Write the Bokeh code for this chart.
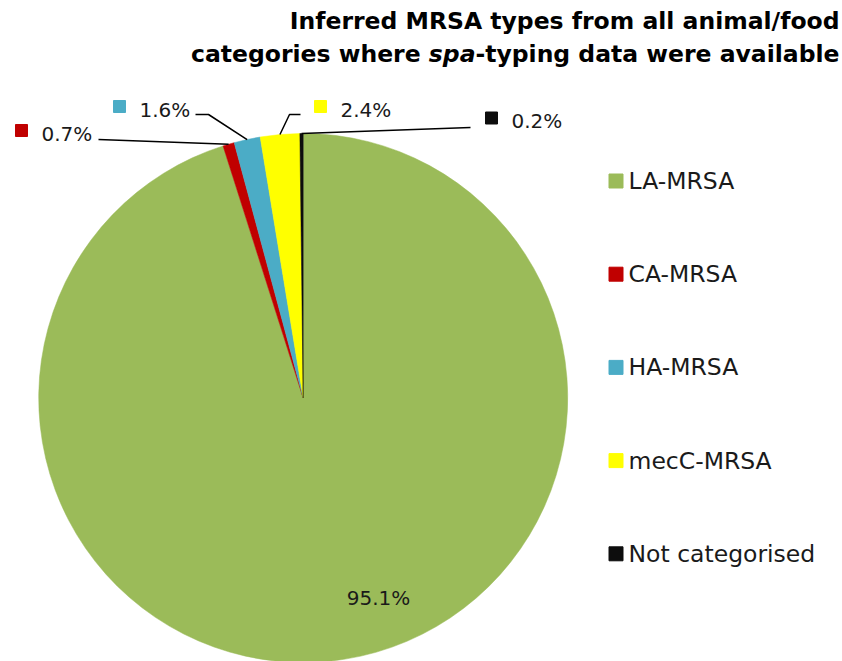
import math
from bokeh.plotting import figure
from bokeh.models import Range1d
from bokeh.core.properties import value
from bokeh.embed import file_html
from bokeh.resources import INLINE

# ---- data ----
categories = ["LA-MRSA", "CA-MRSA", "HA-MRSA", "mecC-MRSA", "Not categorised"]
shares = [95.1, 0.7, 1.6, 2.4, 0.2]
colors = ["#9BBB59", "#C00000", "#4BACC6", "#FFFF00", "#0D0D0D"]
label_texts = ["95.1%", "0.7%", "1.6%", "2.4%", "0.2%"]
title_line1 = "Inferred MRSA types from all animal/food"
title_line2 = ["categories where", "spa", "-typing data were available"]

W, H = 842, 661
FONT = "DejaVu Sans"


def X(px):
    return px


def Y(py):
    return H - py


p = figure(width=W, height=H, output_backend="svg", toolbar_location=None,
           x_range=Range1d(0, W), y_range=Range1d(0, H),
           x_axis_location=None, y_axis_location=None, min_border=0)
p.grid.visible = False
p.outline_line_color = None
p.background_fill_color = "white"

# ---- pie ----
cx, cy, R = 302.7, 397.5, 264.5
total = sum(shares)
cum = 0.0
starts, ends, mids = [], [], []
for s in shares:
    a0 = math.pi / 2 - 2 * math.pi * (cum + s) / total
    a1 = math.pi / 2 - 2 * math.pi * cum / total
    starts.append(a0)
    ends.append(a1)
    mids.append((a0 + a1) / 2)
    cum += s

p.wedge(x=[X(cx)] * len(shares), y=[Y(cy)] * len(shares), radius=R,
        start_angle=starts, end_angle=ends, direction="anticlock",
        fill_color=colors, line_color=colors, line_width=0.5)

# ---- big label inside ----
p.text(x=[X(378)], y=[Y(597)], text=[label_texts[0]], text_font=value(FONT),
       text_font_size="20px", text_align="center", text_baseline="middle",
       text_color="#1a1a1a")

# ---- outside labels with leader lines ----
# (square centre x, square centre y, text x, elbow points)
outside = {
    1: (21, 130, 41, [(98, 139)]),
    2: (119, 106, 139, [(208, 114), (195, 114)]),
    3: (320, 106, 340, [(289, 114), (300, 114)]),
    4: (491, 117.5, 511, [(470, 127)]),
}
for i, (sx, sy, tx, pts) in outside.items():
    rx = cx + R * math.cos(mids[i])
    ry = cy - R * math.sin(mids[i])
    xs = [X(rx)] + [X(a) for a, b in pts]
    ys = [Y(ry)] + [Y(b) for a, b in pts]
    p.line(xs, ys, line_color="black", line_width=1.5)
    p.scatter(x=[X(sx)], y=[Y(sy)], marker="square", size=12,
              fill_color=colors[i], line_color=colors[i])
    p.text(x=[X(tx)], y=[Y(sy + 3.3)], text=[label_texts[i]],
           text_font=value(FONT), text_font_size="20px",
           text_align="left", text_baseline="middle", text_color="#1a1a1a")

# ---- legend ----
leg_y0, leg_dy = 180.5, 93.2
for i, cat in enumerate(categories):
    yy = leg_y0 + i * leg_dy
    p.scatter(x=[X(615.5)], y=[Y(yy)], marker="square", size=14,
              fill_color=colors[i], line_color=colors[i])
    p.text(x=[X(628)], y=[Y(yy)], text=[cat], text_font=value(FONT),
           text_font_size="23.5px", text_align="left", text_baseline="middle",
           text_color="#1a1a1a")

# ---- title ----
TS = 23.5
p.text(x=[X(839)], y=[Y(20.3)], text=[title_line1], text_font=value(FONT),
       text_font_size=f"{TS}px", text_font_style="bold", text_align="right",
       text_baseline="middle", text_color="black")
w3 = 15.49 * TS
w_spa = 1.986 * TS
w_space = 0.348 * TS
seg_right = [839 - w3 - w_spa - w_space, 839 - w3, 839]
seg_style = ["bold", "bold italic", "bold"]
for t, rx, st in zip(title_line2, seg_right, seg_style):
    p.text(x=[X(rx)], y=[Y(53.7)], text=[t], text_font=value(FONT),
           text_font_size=f"{TS}px", text_font_style=st, text_align="right",
           text_baseline="middle", text_color="black")

open("out.html", "w").write(file_html(p, INLINE))
